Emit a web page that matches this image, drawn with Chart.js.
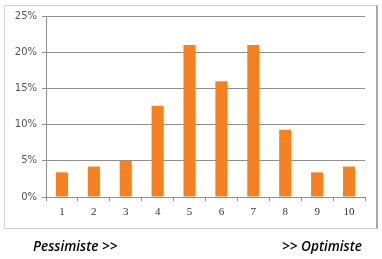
<!DOCTYPE html>
<html><head><meta charset="utf-8">
<script src="https://cdn.jsdelivr.net/npm/chart.js@4/dist/chart.umd.min.js"></script>
<style>
html,body{margin:0;padding:0;background:#fff;width:382px;height:259px;overflow:hidden}
#box{position:absolute;left:4px;top:5px;width:371px;height:222px;border:1px solid #cfcfcf;border-right:2px solid #a9a9a9}
#c{position:absolute;left:0;top:0}
.lab{position:absolute;top:237px;font-family:"Open Sans",sans-serif;font-style:italic;font-weight:600;font-size:13.6px;color:#000;line-height:18px}
</style></head><body>
<div id="box"></div>
<canvas id="c" width="382" height="259"></canvas>
<div class="lab" style="left:33px">Pessimiste &gt;&gt;</div>
<div class="lab" style="left:282px">&gt;&gt; Optimiste</div>
<script>
const categories = ["1","2","3","4","5","6","7","8","9","10"];
const shares = [3.4, 4.2, 5.0, 12.6, 21.0, 16.0, 21.0, 9.3, 3.4, 4.2];
const yTicks = [0, 5, 10, 15, 20, 25];

new Chart(document.getElementById('c'), {
  type: 'bar',
  data: { labels: categories, datasets: [{ data: shares, backgroundColor: '#f5821f', barPercentage: 0.38, categoryPercentage: 1 }] },
  options: {
    responsive: false, animation: false, devicePixelRatio: 1,
    layout: { padding: { top: 16, right: 17, left: 0, bottom: 0 } },
    plugins: { legend: { display: false }, tooltip: { enabled: false } },
    scales: {
      x: {
        grid: { drawOnChartArea: false, drawTicks: true, tickLength: 4, color: '#8f8f8f', offset: true },
        border: { display: false },
        ticks: { padding: 5, color: '#333', font: { family: 'Liberation Serif', size: 11 } },
        afterFit: s => { s.height = 259 - 197; }
      },
      y: {
        min: 0, max: 25,
        afterBuildTicks: s => { s.ticks = yTicks.map(v => ({ value: v })); },
        grid: { color: '#8f8f8f', tickLength: 4, lineWidth: 1 },
        border: { display: true, color: '#8f8f8f' },
        ticks: { padding: 5, color: '#555', font: { family: 'DejaVu Sans', size: 10 }, callback: v => v + '%' },
        afterFit: s => { s.width = 46; }
      }
    }
  }
});
</script>
</body></html>
